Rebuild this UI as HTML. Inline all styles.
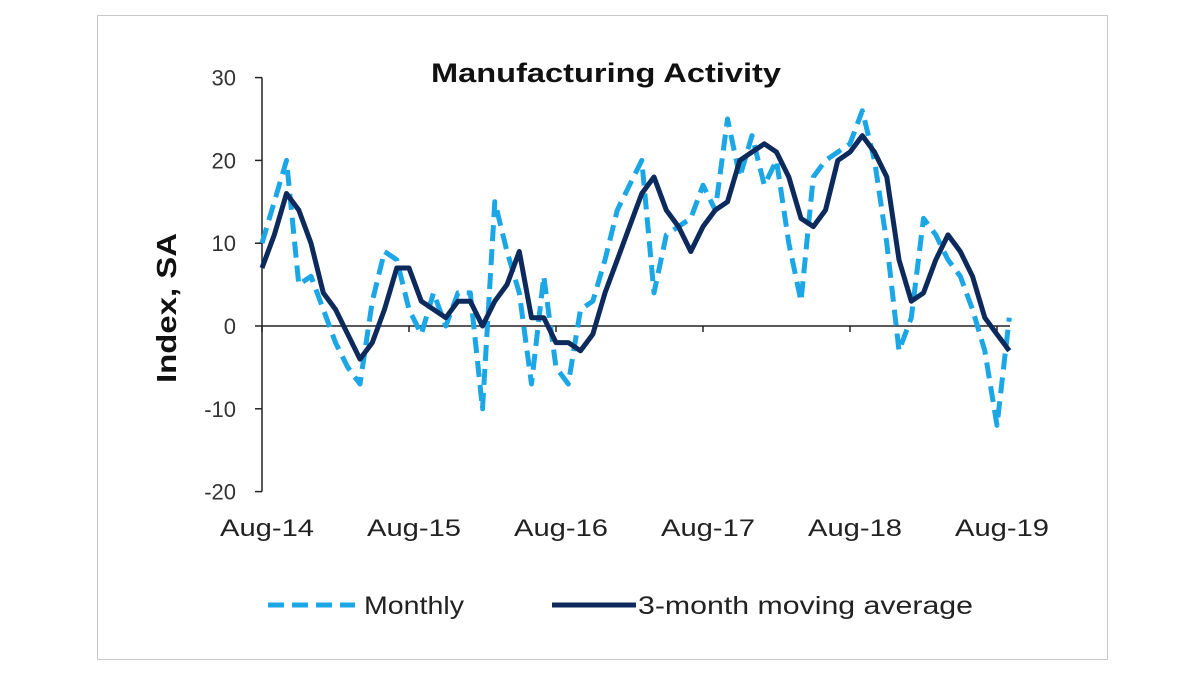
<!DOCTYPE html>
<html><head><meta charset="utf-8"><style>
body{margin:0;background:#fff;font-family:"Liberation Sans",Arial,sans-serif}
</style></head><body>
<svg width="1200" height="675" viewBox="0 0 1200 675" id="c">
<rect x="97.5" y="15.5" width="1010" height="644" fill="#fff" stroke="#c8c8c8"/>
<text x="606" y="82" text-anchor="middle" font-size="27" font-weight="bold" fill="#111" textLength="350" lengthAdjust="spacingAndGlyphs">Manufacturing Activity</text>
<text transform="translate(176,308) rotate(-90)" text-anchor="middle" font-size="28" font-weight="bold" fill="#111" textLength="150" lengthAdjust="spacingAndGlyphs">Index, SA</text>
<g id="g"></g>
<line x1="268" y1="605" x2="355" y2="605" stroke="#1ba6e6" stroke-width="5" stroke-dasharray="16,8"/>
<text x="364" y="614" font-size="25" fill="#222" textLength="100" lengthAdjust="spacingAndGlyphs">Monthly</text>
<line x1="552" y1="605" x2="636" y2="605" stroke="#0c2a5c" stroke-width="5"/>
<text x="638" y="614" font-size="25" fill="#222" textLength="335" lengthAdjust="spacingAndGlyphs">3-month moving average</text>
</svg>
<script>
const yTicks=[30,20,10,0,-10,-20];
const xLabels=["Aug-14","Aug-15","Aug-16","Aug-17","Aug-18","Aug-19"];
const monthly=[10,15,20,5,6,2,-2,-5,-7,3,9,8,2,-1,4,0,4,4,-10,15,9,4,-7,6,-5,-7,2,3,8,14,17,20,4,11,12,13,17,14,25,18,23,17,20,10,3,18,20,21,22,26,20,10,-3,1,13,11,8,6,2,-3,-12,1];
const average=[7,11,16,14,10,4,2,-1,-4,-2,2,7,7,3,2,1,3,3,0,3,5,9,1,1,-2,-2,-3,-1,4,8,12,16,18,14,12,9,12,14,15,20,21,22,21,18,13,12,14,20,21,23,21,18,8,3,4,8,11,9,6,1,-1,-3];
const NS="http://www.w3.org/2000/svg";
const g=document.getElementById('g');
const X0=262,XM=12.25;
const xs=i=>X0+XM*i;
const ys=v=>326-v*8.28;
function mk(t,a){const e=document.createElementNS(NS,t);for(const k in a)e.setAttribute(k,a[k]);g.appendChild(e);return e;}
let ax=mk('line',{x1:X0,y1:ys(30),x2:X0,y2:ys(-20),stroke:'#222','stroke-width':1.5});


yTicks.forEach(v=>{
 let t=mk('line',{x1:X0-7,y1:ys(v),x2:X0,y2:ys(v),stroke:'#222','stroke-width':1.5});
 
 
 let l=mk('text',{x:X0-26,y:ys(v)+8,'text-anchor':'end','font-size':22,fill:'#333'});
 l.textContent=v;
 
 
});
let zx=mk('line',{x1:X0,y1:ys(0),x2:1010,y2:ys(0),stroke:'#222','stroke-width':1.5});


xLabels.forEach((s,k)=>{
 const x=xs(k*12);
 let t=mk('line',{x1:x,y1:ys(0),x2:x,y2:ys(0)+6,stroke:'#222','stroke-width':1.5});
 
 
 let l=mk('text',{x:x+5,y:536,'text-anchor':'middle','font-size':24,fill:'#222',textLength:94,lengthAdjust:'spacingAndGlyphs'});
 l.textContent=s;
 
 
});
const pts=a=>a.map((v,i)=>xs(i).toFixed(1)+','+ys(v).toFixed(1)).join(' ');
let m=mk('polyline',{points:pts(monthly),fill:'none',stroke:'#1ba6e6','stroke-width':5,'stroke-dasharray':'16,8','stroke-linejoin':'round'});


let a=mk('polyline',{points:pts(average),fill:'none',stroke:'#0c2a5c','stroke-width':5,'stroke-linejoin':'round'});


</script>
</body></html>
